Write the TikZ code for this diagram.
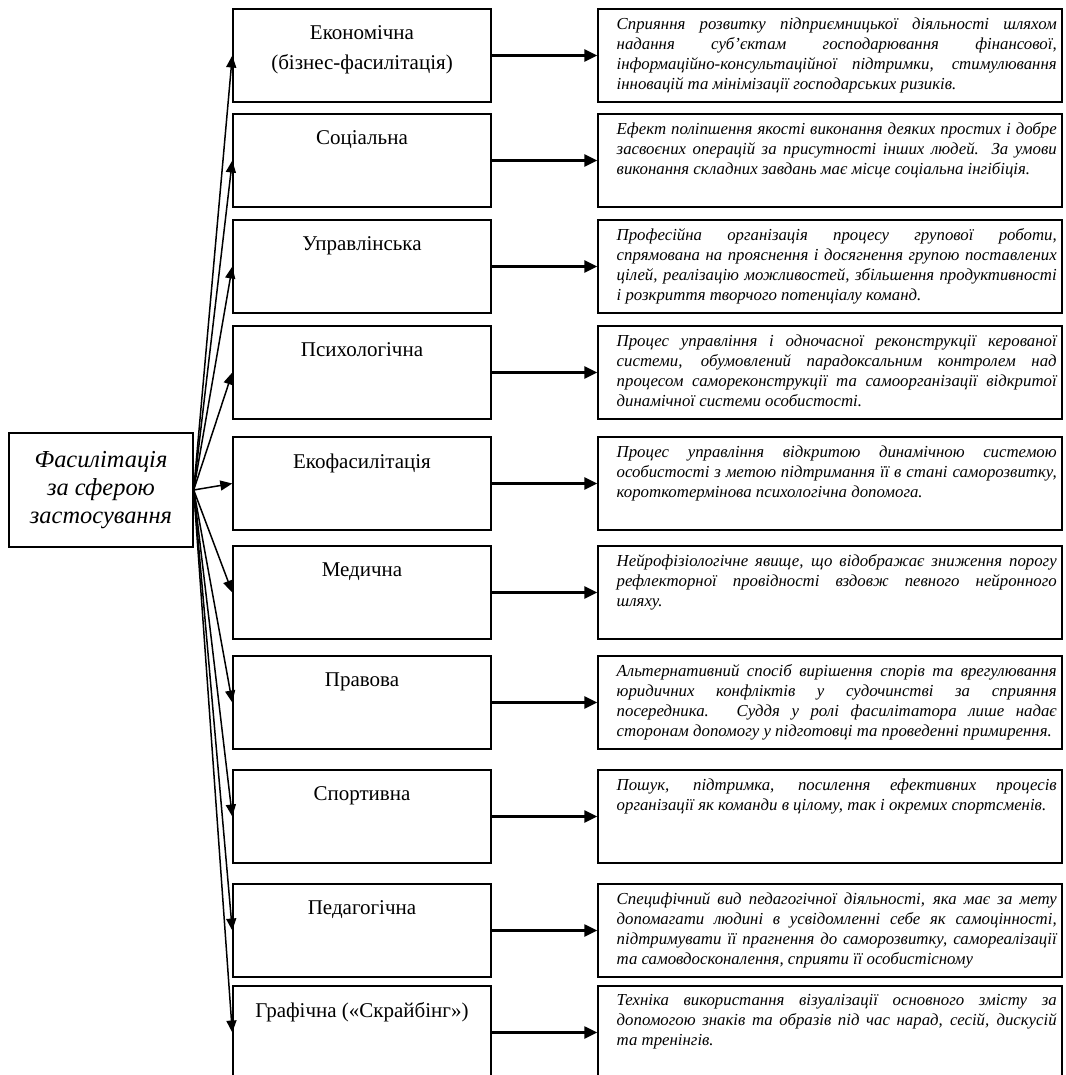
\documentclass[tikz,border=0pt]{standalone}
\usepackage{fontspec}
\setmainfont{Liberation Serif}
\usetikzlibrary{arrows.meta}
\hyphenpenalty=10000
\exhyphenpenalty=10000
\tikzset{
  sferabox/.style={draw, line width=.7pt, minimum width=92pt, minimum height=57pt, inner sep=0pt, align=center, font=\fontsize{12.2}{13.9}\selectfont\itshape},
  vydbox/.style={draw, line width=.7pt, minimum width=129pt, minimum height=46.5pt, inner sep=0pt},
  vydname/.style={anchor=north, inner sep=0pt, align=center, font=\fontsize{10.5}{15}\selectfont},
  defbox/.style={draw, line width=.7pt, minimum width=232pt, minimum height=46.5pt, inner sep=0pt},
  deftext/.style={anchor=north west, inner sep=0pt, text width=220pt, align=justify, font=\fontsize{8.4}{10}\selectfont\itshape},
  fanarrow/.style={line width=.75pt, -{Triangle[length=6pt,width=5pt]}},
  linkarrow/.style={line width=1.2pt, -{Triangle[length=6.5pt,width=6pt]}}
}
\begin{document}
\begin{tikzpicture}[x=0.5pt,y=-0.5pt]
\useasboundingbox (0,0) rectangle (1065,1075);
\clip (0,0) rectangle (1065,1075);
\node[sferabox] (sfera) at (101,490) {Фасилітація\\за сферою\\застосування};

\node[vydbox] (v1) at (362,55.5) {};
\node[vydbox] (v2) at (362,160.5) {};
\node[vydbox] (v3) at (362,266.5) {};
\node[vydbox] (v4) at (362,372.5) {};
\node[vydbox] (v5) at (362,483.5) {};
\node[vydbox] (v6) at (362,592.5) {};
\node[vydbox] (v7) at (362,702.5) {};
\node[vydbox] (v8) at (362,816.5) {};
\node[vydbox] (v9) at (362,930.5) {};
\node[vydbox] (v10) at (362,1032.5) {};

\node[vydname] (v1n) at ([yshift=-8.5pt]v1.north) {Економічна\\(бізнес-фасилітація)};
\node[vydname] (v2n) at ([yshift=-8.5pt]v2.north) {Соціальна};
\node[vydname] (v3n) at ([yshift=-8.5pt]v3.north) {Управлінська};
\node[vydname] (v4n) at ([yshift=-8.5pt]v4.north) {Психологічна};
\node[vydname] (v5n) at ([yshift=-8.5pt]v5.north) {Екофасилітація};
\node[vydname] (v6n) at ([yshift=-8.5pt]v6.north) {Медична};
\node[vydname] (v7n) at ([yshift=-8.5pt]v7.north) {Правова};
\node[vydname] (v8n) at ([yshift=-8.5pt]v8.north) {Спортивна};
\node[vydname] (v9n) at ([yshift=-8.5pt]v9.north) {Педагогічна};
\node[vydname] (v10n) at ([yshift=-8.5pt]v10.north) {Графічна («Скрайбінг»)};

\node[defbox] (d1) at (830,55.5) {};
\node[defbox] (d2) at (830,160.5) {};
\node[defbox] (d3) at (830,266.5) {};
\node[defbox] (d4) at (830,372.5) {};
\node[defbox] (d5) at (830,483.5) {};
\node[defbox] (d6) at (830,592.5) {};
\node[defbox] (d7) at (830,702.5) {};
\node[defbox] (d8) at (830,816.5) {};
\node[defbox] (d9) at (830,930.5) {};
\node[defbox] (d10) at (830,1032.5) {};

\node[deftext] (d1t) at ([xshift=9.5pt,yshift=-4.4pt]d1.north west) {Сприяння розвитку підприємницької діяльності шляхом\linebreak надання суб’єктам господарювання фінансової,\linebreak інформаційно-консультаційної підтримки, стимулювання\linebreak інновацій та мінімізації господарських ризиків.};
\node[deftext] (d2t) at ([xshift=9.5pt,yshift=-4.4pt]d2.north west) {Ефект поліпшення якості виконання деяких простих і добре\linebreak засвоєних операцій за присутності інших людей. За умови\linebreak виконання складних завдань має місце соціальна інгібіція.};
\node[deftext] (d3t) at ([xshift=9.5pt,yshift=-4.4pt]d3.north west) {Професійна організація процесу групової роботи,\linebreak спрямована на прояснення і досягнення групою поставлених\linebreak цілей, реалізацію можливостей, збільшення продуктивності\linebreak і розкриття творчого потенціалу команд.};
\node[deftext] (d4t) at ([xshift=9.5pt,yshift=-4.4pt]d4.north west) {Процес управління і одночасної реконструкції керованої\linebreak системи, обумовлений парадоксальним контролем над\linebreak процесом самореконструкції та самоорганізації відкритої\linebreak динамічної системи особистості.};
\node[deftext] (d5t) at ([xshift=9.5pt,yshift=-4.4pt]d5.north west) {Процес управління відкритою динамічною системою\linebreak особистості з метою підтримання її в стані саморозвитку,\linebreak короткотермінова психологічна допомога.};
\node[deftext] (d6t) at ([xshift=9.5pt,yshift=-4.4pt]d6.north west) {Нейрофізіологічне явище, що відображає зниження порогу\linebreak рефлекторної провідності вздовж певного нейронного\linebreak шляху.};
\node[deftext] (d7t) at ([xshift=9.5pt,yshift=-4.4pt]d7.north west) {Альтернативний спосіб вирішення спорів та врегулювання\linebreak юридичних конфліктів у судочинстві за сприяння\linebreak посередника. Суддя у ролі фасилітатора лише надає\linebreak сторонам допомогу у підготовці та проведенні примирення.};
\node[deftext] (d8t) at ([xshift=9.5pt,yshift=-4.4pt]d8.north west) {Пошук, підтримка, посилення ефективних процесів\linebreak організації як команди в цілому, так і окремих спортсменів.};
\node[deftext] (d9t) at ([xshift=9.5pt,yshift=-4.4pt]d9.north west) {\parfillskip=0pt Специфічний вид педагогічної діяльності, яка має за мету\linebreak допомагати людині в усвідомленні себе як самоцінності,\linebreak підтримувати її прагнення до саморозвитку, самореалізації\linebreak та самовдосконалення, сприяти її особистісному};
\node[deftext] (d10t) at ([xshift=9.5pt,yshift=-4.4pt]d10.north west) {Техніка використання візуалізації основного змісту за\linebreak допомогою знаків та образів під час нарад, сесій, дискусій\linebreak та тренінгів.};

\draw[fanarrow] (sfera.east) -- (v1.west);
\draw[fanarrow] (sfera.east) -- (v2.west);
\draw[fanarrow] (sfera.east) -- (v3.west);
\draw[fanarrow] (sfera.east) -- (v4.west);
\draw[fanarrow] (sfera.east) -- (v5.west);
\draw[fanarrow] (sfera.east) -- (v6.west);
\draw[fanarrow] (sfera.east) -- (v7.west);
\draw[fanarrow] (sfera.east) -- (v8.west);
\draw[fanarrow] (sfera.east) -- (v9.west);
\draw[fanarrow] (sfera.east) -- (v10.west);

\draw[linkarrow] (v1.east) -- (d1.west);
\draw[linkarrow] (v2.east) -- (d2.west);
\draw[linkarrow] (v3.east) -- (d3.west);
\draw[linkarrow] (v4.east) -- (d4.west);
\draw[linkarrow] (v5.east) -- (d5.west);
\draw[linkarrow] (v6.east) -- (d6.west);
\draw[linkarrow] (v7.east) -- (d7.west);
\draw[linkarrow] (v8.east) -- (d8.west);
\draw[linkarrow] (v9.east) -- (d9.west);
\draw[linkarrow] (v10.east) -- (d10.west);
\end{tikzpicture}
\end{document}
